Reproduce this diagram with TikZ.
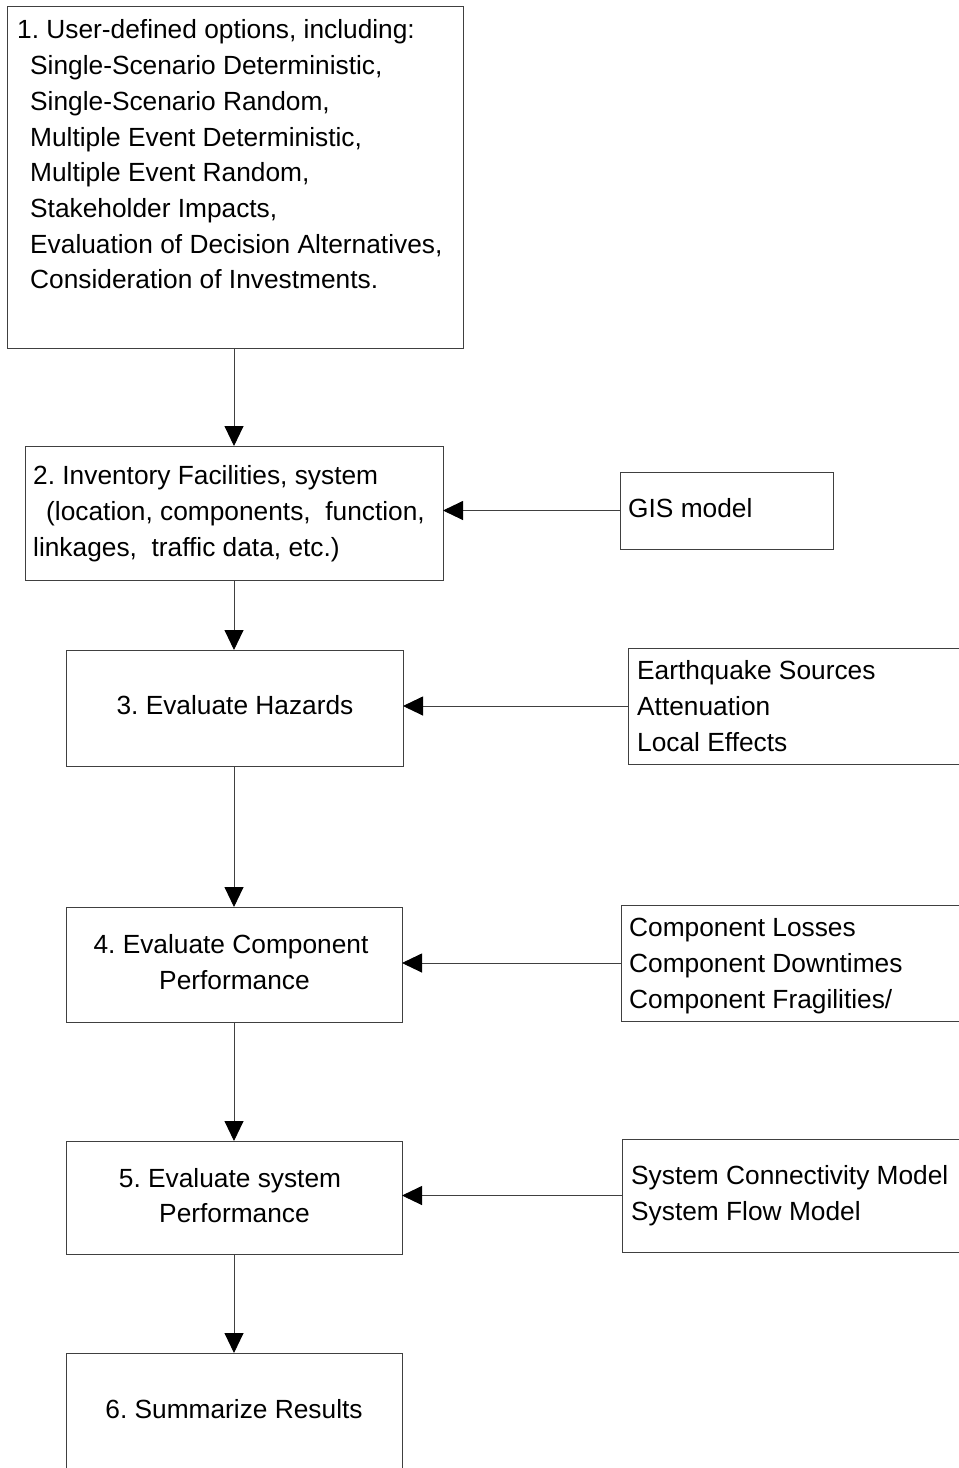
\documentclass[tikz,border=0pt]{standalone}
\usepackage{fontspec}
\setmainfont{Liberation Sans}
\usetikzlibrary{arrows.meta}
\frenchspacing
\begin{document}
\begin{tikzpicture}[x=1pt,y=-1pt,
  box/.style={draw=black!75, line width=0.9pt, inner sep=0pt, outer sep=0pt, rectangle},
  txt/.style={inner sep=0pt, anchor=base west, font=\fontsize{26.3}{36}\selectfont},
  ctxt/.style={txt, anchor=base},
  arr/.style={draw=black!75, line width=0.9pt, -{Triangle[length=20pt,width=19pt,color=black]}}]
\clip (0,0) rectangle (959,1468);
\fill[white] (0,0) rectangle (959,1468);
% main boxes
\node[box, minimum width=456pt, minimum height=342pt] (b1) at (235,177) {};
\node[box, minimum width=418pt, minimum height=134pt] (b2) at (234,513) {};
\node[box, minimum width=337pt, minimum height=116pt] (b3) at (234.5,708) {};
\node[box, minimum width=336pt, minimum height=115pt] (b4) at (234,964.5) {};
\node[box, minimum width=336pt, minimum height=113pt] (b5) at (234,1197.5) {};
\node[box, minimum width=336pt, minimum height=116pt] (b6) at (234,1411) {};
% side boxes
\node[box, minimum width=213pt, minimum height=77pt] (gis) at (726.5,510.5) {};
\node[box, minimum width=400pt, minimum height=116pt] (haz) at (828,706) {};
\node[box, minimum width=400pt, minimum height=116pt] (comp) at (821,963) {};
\node[box, minimum width=400pt, minimum height=113pt] (sys) at (822,1195.5) {};
% texts box 1
\node[txt] (t1a) at (17,38) {1. User-defined options, including:};
\node[txt] (t1b) at (30,74) {Single-Scenario Deterministic,};
\node[txt] (t1c) at (30,110) {Single-Scenario Random,};
\node[txt] (t1d) at (30,146) {Multiple Event Deterministic,};
\node[txt] (t1e) at (30,181) {Multiple Event Random,};
\node[txt] (t1f) at (30,217) {Stakeholder Impacts,};
\node[txt] (t1g) at (30,253) {Evaluation of Decision Alternatives,};
\node[txt] (t1h) at (30,288) {Consideration of Investments.};
% box 2
\node[txt] (t2a) at (33,484) {2. Inventory Facilities, system};
\node[txt] (t2b) at (46,520) {(location, components,\ \ function,};
\node[txt] (t2c) at (33,556) {linkages,\ \ traffic data, etc.)};
\node[txt] (tgis) at (628,517) {GIS model};
% box 3
\node[ctxt] (t3) at (235,714) {3. Evaluate Hazards};
\node[txt] (th1) at (637,679) {Earthquake Sources};
\node[txt] (th2) at (637,715) {Attenuation};
\node[txt] (th3) at (637,751) {Local Effects};
% box 4
\node[ctxt] (t4a) at (231,953) {4. Evaluate Component};
\node[ctxt] (t4b) at (234.5,989) {Performance};
\node[txt] (tc1) at (629,936) {Component Losses};
\node[txt] (tc2) at (629,972) {Component Downtimes};
\node[txt] (tc3) at (629,1008) {Component Fragilities/};
% box 5
\node[ctxt] (t5a) at (230,1187) {5. Evaluate system};
\node[ctxt] (t5b) at (234.5,1222) {Performance};
\node[txt] (ts1) at (631,1184) {System Connectivity Model};
\node[txt] (ts2) at (631,1220) {System Flow Model};
% box 6
\node[ctxt] (t6) at (234,1418) {6. Summarize Results};
% vertical arrows
\draw[arr] (b1.south -| b2.north) -- (b2.north);
\draw[arr] (b2.south) -- (b2.south |- b3.north);
\draw[arr] (b3.south -| b2.south) -- (b2.south |- b4.north);
\draw[arr] (b4.south) -- (b5.north);
\draw[arr] (b5.south) -- (b6.north);
% horizontal arrows
\draw[arr] (gis.west) -- (gis.west -| b2.east);
\draw[arr] (haz.west) -- (haz.west -| b3.east);
\draw[arr] (comp.west) -- (comp.west -| b4.east);
\draw[arr] (sys.west) -- (sys.west -| b5.east);
\end{tikzpicture}
\end{document}
